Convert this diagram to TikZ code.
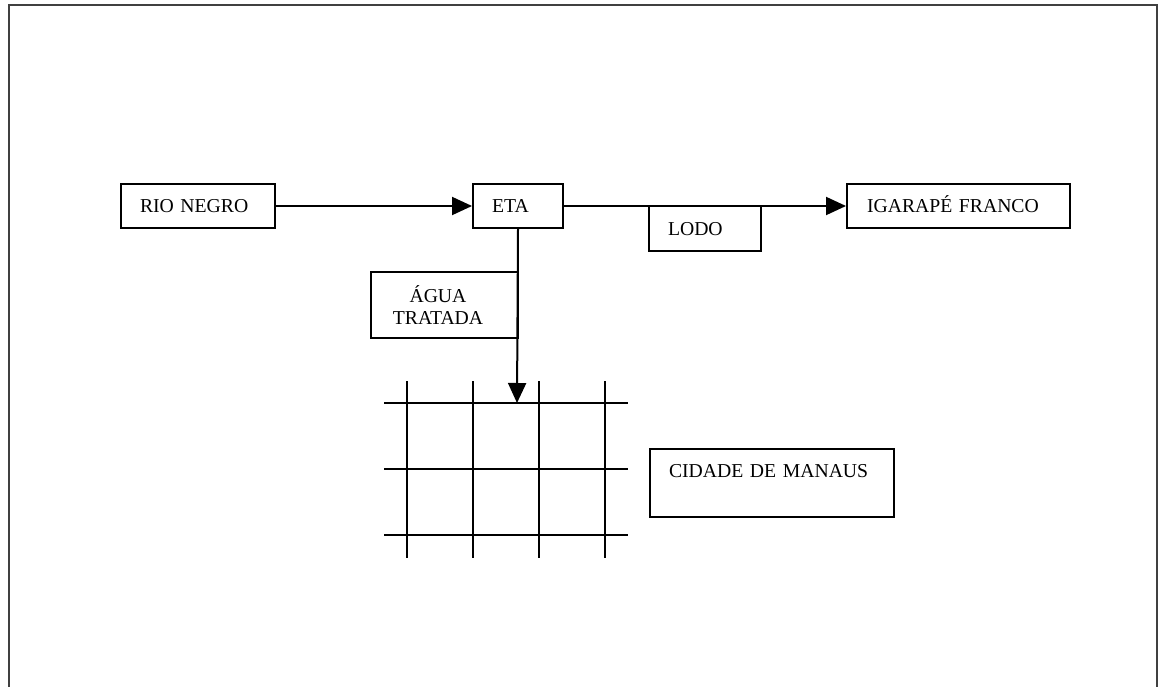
\documentclass[tikz,border=0pt]{standalone}
\usepackage{fontspec}
\setmainfont{Liberation Serif}
\usetikzlibrary{arrows.meta}
\begin{document}
\begin{tikzpicture}[x=1pt,y=-1pt,
  box/.style={draw, line width=2pt, inner sep=0pt, anchor=north west,
    font=\fontsize{19.7pt}{22.7pt}\selectfont},
  lbox/.style={box, align=left, text height=17pt, text depth=4pt},
  conn/.style={line width=2pt, -{Triangle[length=20pt,width=18pt]}},
  gridline/.style={line width=2pt},
  frame/.style={line width=2pt, draw=black!75}]
\useasboundingbox (0,0) rectangle (1158,687);
% outer frame (open at the bottom)
\draw[frame] (9,700) -- (9,5) -- (1157,5) -- (1157,700);

% boxes
\node[lbox, minimum width=154pt, minimum height=44pt, text width=116pt] (rio) at (120,183) {RIO NEGRO};
\node[lbox, minimum width=90pt, minimum height=44pt, text width=52pt] (eta) at (472,183) {ETA};
\node[lbox, minimum width=223pt, minimum height=44pt, text width=183pt] (igarape) at (846,183) {IGARAPÉ FRANCO};
\node[lbox, minimum width=112pt, minimum height=45pt, text width=74pt] (lodo) at (648,205) {LODO};
\node[box, align=center, minimum width=147pt, minimum height=66pt] (agua) at (370,271)
  {ÁGUA\hspace*{13pt}\\TRATADA\hspace*{13pt}};
\node[box, align=left, minimum width=244pt, minimum height=68pt, text width=206pt,
  text height=17pt, text depth=29pt] (cidade) at (649,448) {CIDADE DE MANAUS};

% city grid
\foreach \y in {403,469,535} \draw[gridline] (384,\y) -- (628,\y);
\foreach \x in {407,473,539,605} \draw[gridline] (\x,381) -- (\x,558);
\coordinate (citytop) at (517,403);

% connectors
\draw[conn] (rio.east) -- (eta.west);
\draw[conn] (eta.east) -- (igarape.west);
\draw[conn] (eta.south) -- (citytop);
\end{tikzpicture}
\end{document}
